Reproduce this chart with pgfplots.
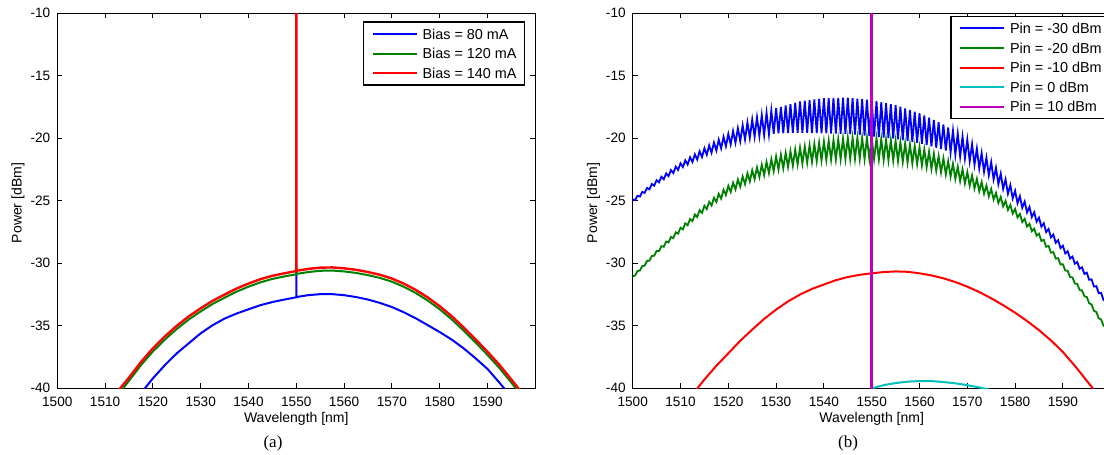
\documentclass[border=0pt]{standalone}
\usepackage{fontspec}
\setmainfont{Liberation Sans}
\newfontfamily\capfont{Liberation Serif}
\usepackage{pgfplots}
\usepackage{pgfplotstable}
\pgfplotsset{compat=1.18}
\definecolor{mblue}{rgb}{0,0,1}
\definecolor{mgreen}{rgb}{0,0.5,0}
\definecolor{mred}{rgb}{1,0,0}
\definecolor{mcyan}{rgb}{0,0.75,0.75}
\definecolor{mmag}{rgb}{0.75,0,0.75}

% ---------- panel (a) ----------
\pgfplotstableread{
x y
1515 -41.6
1517.5 -40.4
1520 -39.2
1522.5 -38.15
1525 -37.2
1527.5 -36.4
1530 -35.6
1532.5 -34.95
1535 -34.42
1537.5 -34.02
1540 -33.68
1542.5 -33.35
1545 -33.1
1547.5 -32.9
1550 -32.72
1550 -30.7
1550 -32.7
1552.5 -32.55
1555 -32.47
1557.5 -32.47
1560 -32.55
1562.5 -32.7
1565 -32.9
1567.5 -33.17
1570 -33.5
1572.5 -33.92
1575 -34.4
1577.5 -34.95
1580 -35.5
1582.5 -36.1
1585 -36.8
1587.5 -37.6
1590 -38.45
1592.5 -39.55
1595 -40.7
}\ablue
\pgfplotstableread{
x y
1510 -41.9
1512.5 -40.6
1515 -39.4
1517.5 -38.15
1520 -37.05
1522.5 -36.1
1525 -35.25
1527.5 -34.5
1530 -33.85
1532.5 -33.25
1535 -32.75
1537.5 -32.27
1540 -31.87
1542.5 -31.52
1545 -31.25
1547.5 -31.05
1550 -30.88
1550 -30.0
1550 -30.85
1552.5 -30.7
1555 -30.6
1557.5 -30.58
1560 -30.65
1562.5 -30.77
1565 -30.95
1567.5 -31.17
1570 -31.47
1572.5 -31.88
1575 -32.38
1577.5 -32.98
1580 -33.68
1582.5 -34.48
1585 -35.38
1587.5 -36.33
1590 -37.33
1592.5 -38.38
1595 -39.55
1597.5 -40.75
}\agreen
\pgfplotstableread{
x y
1510 -41.6
1512.5 -40.3
1515 -39.15
1517.5 -37.9
1520 -36.8
1522.5 -35.85
1525 -35.0
1527.5 -34.25
1530 -33.6
1532.5 -33.0
1535 -32.5
1537.5 -32.02
1540 -31.62
1542.5 -31.27
1545 -31.0
1547.5 -30.8
1550 -30.62
1550 0
1550 -30.6
1552.5 -30.45
1555 -30.35
1557.5 -30.33
1560 -30.4
1562.5 -30.52
1565 -30.7
1567.5 -30.92
1570 -31.22
1572.5 -31.63
1575 -32.13
1577.5 -32.73
1580 -33.43
1582.5 -34.23
1585 -35.13
1587.5 -36.08
1590 -37.08
1592.5 -38.13
1595 -39.3
1597.5 -40.5
}\ared

% ---------- panel (b) ----------
\pgfplotstableread{
x y
1500 -24.90
1500.5 -24.95
1501 -24.60
1501.5 -24.66
1502 -24.29
1502.5 -24.37
1503 -23.97
1503.5 -24.08
1504 -23.66
1504.5 -23.79
1505 -23.35
1505.5 -23.52
1506 -23.08
1506.5 -23.28
1507 -22.81
1507.5 -23.03
1508 -22.54
1508.5 -22.78
1509 -22.27
1509.5 -22.53
1510 -22.00
1510.5 -22.30
1511 -21.76
1511.5 -22.10
1512 -21.52
1512.5 -21.90
1513 -21.28
1513.5 -21.70
1514 -21.04
1514.5 -21.50
1515 -20.80
1515.5 -21.32
1516 -20.57
1516.5 -21.15
1517 -20.34
1517.5 -20.98
1518 -20.11
1518.5 -20.81
1519 -19.88
1519.5 -20.64
1520 -19.65
1520.5 -20.49
1521 -19.42
1521.5 -20.36
1522 -19.19
1522.5 -20.23
1523 -18.96
1523.5 -20.10
1524 -18.73
1524.5 -19.97
1525 -18.50
1525.5 -19.87
1526 -18.32
1526.5 -19.81
1527 -18.14
1527.5 -19.75
1528 -17.96
1528.5 -19.69
1529 -17.78
1529.5 -19.63
1530 -17.60
1530.5 -19.60
1531 -17.49
1531.5 -19.59
1532 -17.38
1532.5 -19.58
1533 -17.27
1533.5 -19.57
1534 -17.16
1534.5 -19.56
1535 -17.05
1535.5 -19.56
1536 -17.00
1536.5 -19.57
1537 -16.95
1537.5 -19.58
1538 -16.90
1538.5 -19.59
1539 -16.85
1539.5 -19.60
1540 -16.80
1540.5 -19.61
1541 -16.79
1541.5 -19.62
1542 -16.78
1542.5 -19.63
1543 -16.77
1543.5 -19.64
1544 -16.76
1544.5 -19.65
1545 -16.75
1545.5 -19.67
1546 -16.79
1546.5 -19.71
1547 -16.83
1547.5 -19.75
1548 -16.87
1548.5 -19.79
1549 -16.91
1549.5 -19.83
1550 -16.95
1550.5 -19.87
1551 -17.03
1551.5 -19.91
1552 -17.11
1552.5 -19.95
1553 -17.19
1553.5 -19.99
1554 -17.27
1554.5 -20.03
1555 -17.35
1555.5 -20.09
1556 -17.48
1556.5 -20.16
1557 -17.61
1557.5 -20.23
1558 -17.74
1558.5 -20.30
1559 -17.87
1559.5 -20.37
1560 -18.00
1560.5 -20.45
1561 -18.18
1561.5 -20.55
1562 -18.36
1562.5 -20.65
1563 -18.54
1563.5 -20.75
1564 -18.72
1564.5 -20.85
1565 -18.90
1565.5 -20.98
1566 -19.14
1566.5 -21.14
1567 -19.38
1567.5 -21.30
1568 -19.62
1568.5 -21.46
1569 -19.86
1569.5 -21.62
1570 -20.10
1570.5 -21.84
1571 -20.46
1571.5 -22.12
1572 -20.82
1572.5 -22.40
1573 -21.18
1573.5 -22.68
1574 -21.54
1574.5 -22.96
1575 -21.90
1575.5 -23.29
1576 -22.36
1576.5 -23.67
1577 -22.82
1577.5 -24.05
1578 -23.28
1578.5 -24.43
1579 -23.74
1579.5 -24.81
1580 -24.20
1580.5 -25.19
1581 -24.63
1581.5 -25.56
1582 -25.06
1582.5 -25.93
1583 -25.49
1583.5 -26.30
1584 -25.92
1584.5 -26.67
1585 -26.35
1585.5 -27.07
1586 -26.80
1586.5 -27.50
1587 -27.25
1587.5 -27.93
1588 -27.70
1588.5 -28.36
1589 -28.15
1589.5 -28.79
1590 -28.60
1590.5 -29.21
1591 -29.03
1591.5 -29.62
1592 -29.46
1592.5 -30.03
1593 -29.89
1593.5 -30.44
1594 -30.32
1594.5 -30.85
1595 -30.75
1595.5 -31.32
1596 -31.29
1596.5 -31.86
1597 -31.83
1597.5 -32.40
1598 -32.37
1598.5 -32.94
1599 -32.91
1599.5 -33.48
1600 -33.45
}\bblue
\pgfplotstableread{
x y
1500 -31.03
1500.5 -30.98
1501 -30.62
1501.5 -30.58
1502 -30.22
1502.5 -30.19
1503 -29.81
1503.5 -29.79
1504 -29.41
1504.5 -29.40
1505 -29.00
1505.5 -29.03
1506 -28.63
1506.5 -28.68
1507 -28.26
1507.5 -28.33
1508 -27.89
1508.5 -27.98
1509 -27.52
1509.5 -27.63
1510 -27.15
1510.5 -27.29
1511 -26.80
1511.5 -26.96
1512 -26.45
1512.5 -26.63
1513 -26.10
1513.5 -26.30
1514 -25.75
1514.5 -25.97
1515 -25.40
1515.5 -25.66
1516 -25.08
1516.5 -25.38
1517 -24.76
1517.5 -25.10
1518 -24.44
1518.5 -24.82
1519 -24.12
1519.5 -24.54
1520 -23.80
1520.5 -24.30
1521 -23.55
1521.5 -24.09
1522 -23.30
1522.5 -23.88
1523 -23.05
1523.5 -23.67
1524 -22.80
1524.5 -23.46
1525 -22.55
1525.5 -23.27
1526 -22.33
1526.5 -23.11
1527 -22.11
1527.5 -22.95
1528 -21.89
1528.5 -22.79
1529 -21.67
1529.5 -22.63
1530 -21.45
1530.5 -22.50
1531 -21.31
1531.5 -22.40
1532 -21.17
1532.5 -22.30
1533 -21.03
1533.5 -22.20
1534 -20.89
1534.5 -22.10
1535 -20.75
1535.5 -22.02
1536 -20.65
1536.5 -21.96
1537 -20.55
1537.5 -21.90
1538 -20.45
1538.5 -21.84
1539 -20.35
1539.5 -21.78
1540 -20.25
1540.5 -21.74
1541 -20.19
1541.5 -21.72
1542 -20.13
1542.5 -21.70
1543 -20.07
1543.5 -21.68
1544 -20.01
1544.5 -21.66
1545 -19.95
1545.5 -21.65
1546 -19.95
1546.5 -21.65
1547 -19.95
1547.5 -21.65
1548 -19.95
1548.5 -21.65
1549 -19.95
1549.5 -21.65
1550 -19.95
1550.5 -21.67
1551 -20.00
1551.5 -21.70
1552 -20.05
1552.5 -21.73
1553 -20.10
1553.5 -21.76
1554 -20.15
1554.5 -21.79
1555 -20.20
1555.5 -21.83
1556 -20.30
1556.5 -21.89
1557 -20.40
1557.5 -21.95
1558 -20.50
1558.5 -22.01
1559 -20.60
1559.5 -22.07
1560 -20.70
1560.5 -22.17
1561 -20.88
1561.5 -22.31
1562 -21.06
1562.5 -22.45
1563 -21.24
1563.5 -22.59
1564 -21.42
1564.5 -22.73
1565 -21.60
1565.5 -22.89
1566 -21.82
1566.5 -23.07
1567 -22.04
1567.5 -23.25
1568 -22.26
1568.5 -23.43
1569 -22.48
1569.5 -23.61
1570 -22.70
1570.5 -23.81
1571 -22.97
1571.5 -24.02
1572 -23.24
1572.5 -24.23
1573 -23.51
1573.5 -24.44
1574 -23.78
1574.5 -24.65
1575 -24.05
1575.5 -24.89
1576 -24.37
1576.5 -25.17
1577 -24.69
1577.5 -25.45
1578 -25.01
1578.5 -25.73
1579 -25.33
1579.5 -26.01
1580 -25.65
1580.5 -26.33
1581 -26.05
1581.5 -26.70
1582 -26.44
1582.5 -27.06
1583 -26.84
1583.5 -27.43
1584 -27.23
1584.5 -27.79
1585 -27.63
1585.5 -28.21
1586 -28.12
1586.5 -28.68
1587 -28.61
1587.5 -29.15
1588 -29.10
1588.5 -29.62
1589 -29.59
1589.5 -30.09
1590 -30.08
1590.5 -30.58
1591 -30.60
1591.5 -31.10
1592 -31.13
1592.5 -31.61
1593 -31.65
1593.5 -32.13
1594 -32.18
1594.5 -32.64
1595 -32.70
1595.5 -33.20
1596 -33.30
1596.5 -33.80
1597 -33.90
1597.5 -34.40
1598 -34.50
1598.5 -35.00
1599 -35.10
1599.5 -35.60
1600 -35.70
}\bgreen
\pgfplotstableread{
x y
1510 -41.7
1512.5 -40.5
1515 -39.3
1517.5 -38.2
1520 -37.2
1522.5 -36.2
1525 -35.3
1527.5 -34.45
1530 -33.7
1532.5 -33.05
1535 -32.5
1537.5 -32.05
1540 -31.7
1542.5 -31.35
1545 -31.1
1547.5 -30.92
1550 -30.8
1552.5 -30.7
1555 -30.65
1557.5 -30.68
1560 -30.8
1562.5 -30.97
1565 -31.2
1567.5 -31.5
1570 -31.87
1572.5 -32.3
1575 -32.8
1577.5 -33.35
1580 -33.95
1582.5 -34.62
1585 -35.35
1587.5 -36.17
1590 -37.1
1592.5 -38.2
1595 -39.4
1597.5 -40.6
}\bred
\pgfplotstableread{
x y
1550 -40.0
1552.5 -39.75
1555 -39.58
1557.5 -39.47
1560 -39.42
1562.5 -39.42
1565 -39.5
1567.5 -39.6
1570 -39.75
1572.5 -39.93
1575 -40.15
}\bcyan
\pgfplotstableread{
x y
1550 -45
1550 0
}\bmag

\pgfplotsset{
  mstyle/.style={
    scale only axis, width=239pt, height=187.5pt,
    xmin=1500, xmax=1600, ymin=-40, ymax=-10,
    xtick={1500,1510,...,1590}, ytick={-40,-35,...,-10},
    tick align=inside, major tick length=2.5pt,
    every tick/.style={black, line width=0.5pt},
    axis line style={line width=0.6pt},
    /pgf/number format/assume math mode=true,
    /pgf/number format/set thousands separator={},
    ticklabel style={font=\fontsize{6.8}{8}\selectfont},
    xticklabel style={yshift=-1pt},
    xlabel={Wavelength [nm]}, ylabel={Power [dBm]},
    every axis x label/.style={at={(axis description cs:0.5,-0.082)},anchor=center,
      font=\fontsize{7}{8.4}\selectfont},
    every axis y label/.style={at={(axis description cs:-0.082,0.494)},anchor=center,rotate=90,
      font=\fontsize{7}{8.4}\selectfont},
    legend cell align=left,
    legend image code/.code={\draw[##1, line width=1pt] (0pt,0pt) -- (22pt,0pt);},
    legend style={font=\fontsize{7.2}{8.6}\selectfont, draw=black, line width=0.7pt,
      row sep=4.6pt, column sep=2.5pt, inner xsep=4pt, inner ysep=3.4pt,
      nodes={inner sep=0pt, text height=5.2pt, text depth=0pt}},
    every axis plot/.append style={line width=1pt},
  }
}

\begin{document}
\begin{tikzpicture}
\begin{axis}[mstyle, at={(28.65pt,33.35pt)}, anchor=south west,
  legend style={at={(1,1)}, xshift=-5pt, yshift=-4pt, anchor=north east}]
\addplot[mblue] table[x=x,y=y] {\ablue};
\addlegendentry{Bias = 80 mA}
\addplot[mgreen] table[x=x,y=y] {\agreen};
\addlegendentry{Bias = 120 mA}
\addplot[mred, line width=1.2pt] table[x=x,y=y] {\ared};
\addlegendentry{Bias = 140 mA}
\end{axis}

\begin{axis}[mstyle, at={(316.35pt,33.35pt)}, anchor=south west,
  legend style={at={(0.6646,1)}, yshift=-1.2pt, anchor=north west}]
\addplot[mblue, line width=0.9pt] table[x=x,y=y] {\bblue};
\addlegendentry{Pin = -30 dBm}
\addplot[mgreen, line width=0.9pt] table[x=x,y=y] {\bgreen};
\addlegendentry{Pin = -20 dBm}
\addplot[mred] table[x=x,y=y] {\bred};
\addlegendentry{Pin = -10 dBm}
\addplot[mcyan] table[x=x,y=y] {\bcyan};
\addlegendentry{Pin = 0 dBm}
\addplot[mmag, line width=1.5pt] table[x=x,y=y] {\bmag};
\addlegendentry{Pin = 10 dBm}
\end{axis}

\node[font=\capfont\fontsize{8.5}{10}\selectfont] at (136.5pt,6pt) {(a)};
\node[font=\capfont\fontsize{8.5}{10}\selectfont] at (424pt,6pt) {(b)};
\pgfresetboundingbox
\path[use as bounding box] (0,0) rectangle (552pt,227.5pt);
\end{tikzpicture}
\end{document}
